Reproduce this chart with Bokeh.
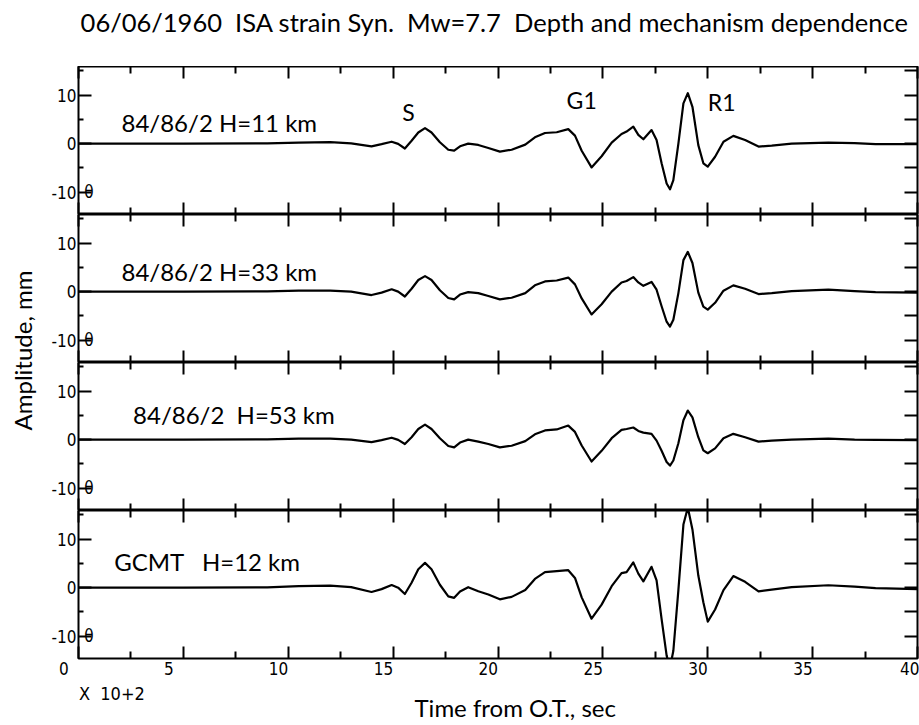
import math
from bokeh.plotting import figure
from bokeh.layouts import column, row
from bokeh.models import LinearAxis, FixedTicker, Range1d
from bokeh.core.properties import value
from bokeh.embed import file_html
from bokeh.resources import INLINE

# ---------------- data (time in units of 100 s) ----------------
time_hs = [0, 5, 9, 10.5, 12, 13, 13.97, 14.45, 14.93, 15.24,
           15.56, 15.88, 16.2, 16.52, 16.83, 17.23, 17.63, 17.91, 18.19, 18.58,
           19.06, 19.54, 20.09, 20.65, 21.3, 21.76, 22.24, 22.8, 23.35, 23.67,
           23.99, 24.46, 24.94, 25.42, 25.89, 26.13, 26.45, 26.69, 26.93, 27.32,
           27.56, 27.8, 28.04, 28.2, 28.36, 28.6, 28.84, 29.05, 29.27, 29.55,
           29.79, 30.0, 30.35, 30.75, 31.22, 31.78, 32.42, 33.05, 34.0, 35.75,
           37, 38, 40]

amp_h11 = [0, 0, 0.05, 0.2, 0.3, 0.05, -0.55, -0.1, 0.4, -0.05,
           -1.0, 0.6, 2.3, 3.2, 2.3, 0.3, -1.25, -1.45, -0.55, 0.0,
           -0.27, -0.9, -1.65, -1.25, -0.2, 1.3, 2.2, 2.35, 3.0, 1.65,
           -1.45, -4.9, -2.6, 0.2, 2.0, 2.5, 3.5, 1.8, 0.9, 2.8,
           0.75, -4.05, -8.2, -9.4, -7.5, 0.0, 8.3, 10.4, 7.6, -0.3,
           -4.05, -4.75, -2.7, 0.4, 1.6, 0.75, -0.6, -0.4, 0.0, 0.2,
           0.1, -0.1, -0.1]

amp_h33 = [0, 0, 0.05, 0.2, 0.2, 0.0, -0.7, -0.2, 0.5, 0.0,
           -1.0, 0.6, 2.4, 3.2, 2.4, 0.3, -1.3, -1.6, -0.6, -0.1,
           -0.3, -0.9, -1.6, -1.25, -0.3, 1.3, 2.1, 2.3, 2.9, 1.5,
           -1.4, -4.7, -2.6, 0.0, 1.9, 2.2, 3.0, 1.9, 1.2, 2.0,
           0.4, -3.0, -6.2, -7.2, -5.8, -0.3, 6.5, 8.2, 5.9, -0.2,
           -3.1, -3.7, -2.3, 0.2, 1.3, 0.6, -0.5, -0.3, 0.1, 0.4,
           0.1, -0.1, -0.2]

amp_h53 = [0, 0, 0.05, 0.2, 0.2, 0.0, -0.5, -0.1, 0.4, -0.05,
           -0.9, 0.5, 2.2, 3.1, 2.2, 0.3, -1.3, -1.6, -0.6, 0.0,
           -0.4, -0.9, -1.6, -1.25, -0.3, 1.1, 1.9, 2.1, 2.9, 1.6,
           -1.2, -4.5, -2.3, 0.3, 2.0, 2.2, 2.5, 1.8, 1.45, 1.2,
           -0.2, -2.3, -4.6, -5.35, -4.3, -0.75, 4.0, 6.0, 4.6, 0.5,
           -2.2, -2.8, -1.8, 0.3, 1.2, 0.5, -0.4, -0.2, 0.0, 0.2,
           0.0, -0.05, -0.1]

amp_gcmt = [0, 0, 0.05, 0.3, 0.4, 0.1, -0.9, -0.3, 0.55, 0.0,
            -1.3, 1.0, 3.8, 5.1, 3.8, 0.6, -1.8, -2.1, -0.8, 0.1,
            -0.75, -1.4, -2.4, -1.9, -0.5, 1.8, 3.2, 3.4, 3.6, 2.0,
            -2.0, -6.4, -3.5, 0.3, 3.0, 3.2, 5.2, 2.9, 1.3, 4.3,
            1.5, -6.5, -14.0, -16.5, -13.0, -0.5, 13.0, 16.5, 12.0, 2.5,
            -3.0, -7.0, -4.5, -0.5, 2.4, 1.2, -0.75, -0.4, 0.1, 0.5,
            0.2, -0.1, -0.3]

panel_amps = [amp_h11, amp_h33, amp_h53, amp_gcmt]
panel_labels = ["84/86/2 H=11 km", "84/86/2 H=33 km",
                "84/86/2 \u00a0H=53 km", "GCMT \u00a0 H=12 km"]
phase_labels = ["S", "G1", "R1"]

x_major = [0, 5, 10, 15, 20, 25, 30, 35, 40]
x_minor = [2.5, 7.5, 12.5, 17.5, 22.5, 27.5, 32.5, 37.5]
y_major = [-10, 0, 10]
y_minor = [-5, 5, 15]
y_right = [-10, -5, 0, 5, 10, 15]

title_text = "06/06/1960 \u00a0ISA strain Syn. \u00a0Mw=7.7 \u00a0Depth and mechanism dependence"
y_label_text = "Amplitude, mm"
x_label_text = "Time from O.T., sec"
x_scale_text = "X \u00a010+2"

# ---------------- layout / style ----------------
LBL_FONT = value("Lato")
TICK_FONT = "DejaVu Sans Condensed"
YLAB_W = 48
FRAME_W, FRAME_H = 839, 148
BORDER_L, BORDER_R = 29, 2
TITLE_H, BOT_AX_H, BOT_H = 66, 24, 42
TOTAL_H = TITLE_H + 4 * FRAME_H + BOT_AX_H + BOT_H

# text centres (data units of each panel)
label_pos = [(2.05, 4.43), (2.05, 4.2), (2.6, 5.2), (1.7, 5.4)]
phase_pos = [(15.43, 6.45), (23.27, 9.0), (30.0, 8.6)]

x_range = Range1d(0, 40)


def pad_label(v):
    s = str(v)
    if v == x_major[-1]:
        return s
    return s + "\u00a0" * (6 if len(s) == 1 else 4)


def hidden_labels(ax):
    ax.major_label_standoff = 0
    ax.major_label_text_font_size = "0px"
    ax.major_label_text_color = None


def make_panel(i, with_labels):
    p = figure(frame_width=FRAME_W, frame_height=FRAME_H, x_range=x_range,
               y_range=Range1d(-14.6, 15.9), output_backend="svg",
               toolbar_location=None, x_axis_location=None, y_axis_location=None,
               min_border_left=BORDER_L, min_border_right=BORDER_R,
               min_border_top=0, min_border_bottom=(BOT_AX_H if with_labels else 0),
               background_fill_color="white", border_fill_color="white")
    p.grid.grid_line_color = None
    p.outline_line_color = "black"
    p.outline_line_width = 2

    left = LinearAxis(ticker=FixedTicker(ticks=y_major, minor_ticks=y_minor),
                      major_label_overrides={v: str(v) for v in y_major},
                      major_tick_in=13, major_tick_out=0,
                      minor_tick_in=5, minor_tick_out=0,
                      major_tick_line_width=2, minor_tick_line_width=2,
                      axis_line_color=None, major_label_standoff=2,
                      major_label_text_font=TICK_FONT,
                      major_label_text_font_size="17px",
                      major_label_text_color="black")
    p.add_layout(left, "left")

    right = LinearAxis(ticker=FixedTicker(ticks=y_right),
                       major_tick_in=13, major_tick_out=0,
                       minor_tick_line_color=None,
                       major_tick_line_width=2, axis_line_color=None)
    hidden_labels(right)
    p.add_layout(right, "right")

    top = LinearAxis(ticker=FixedTicker(ticks=x_major, minor_ticks=x_minor),
                     major_tick_in=12, major_tick_out=0,
                     minor_tick_in=7, minor_tick_out=0,
                     major_tick_line_width=2, minor_tick_line_width=2,
                     axis_line_color=None)
    hidden_labels(top)
    p.add_layout(top, "above")

    bottom = LinearAxis(ticker=FixedTicker(ticks=x_major, minor_ticks=x_minor),
                        major_tick_in=12, major_tick_out=0,
                        minor_tick_in=7, minor_tick_out=0,
                        major_tick_line_width=2, minor_tick_line_width=2,
                        axis_line_color=None)
    if with_labels:
        bottom.major_label_overrides = {v: pad_label(v) for v in x_major}
        bottom.major_label_standoff = 0
        bottom.major_label_text_font = TICK_FONT
        bottom.major_label_text_font_size = "17px"
        bottom.major_label_text_color = "black"
    else:
        hidden_labels(bottom)
    p.add_layout(bottom, "below")

    p.line(time_hs, panel_amps[i], line_color="black", line_width=2.2,
           line_join="round")

    # the plotter's overlapping "0" beside -10
    p.text(x=[0.5], y=[-10], text=["\u03b8"], text_align="center",
           text_baseline="middle", text_font=value(TICK_FONT),
           text_font_size="17px", text_color="black")

    lx, ly = label_pos[i]
    p.text(x=[lx], y=[ly], text=[panel_labels[i]], text_align="left",
           text_baseline="middle", text_font=LBL_FONT,
           text_font_size="24px", text_color="black")
    if i == 0:
        p.text(x=[q[0] for q in phase_pos], y=[q[1] for q in phase_pos],
               text=phase_labels, text_align="left", text_baseline="middle",
               text_font=LBL_FONT, text_font_size="23px", text_color="black")
    return p


def strip_fig(h):
    """A text-only strip whose frame lines up with the panels' frames."""
    f = figure(frame_width=FRAME_W, frame_height=h, x_range=x_range,
               y_range=Range1d(0, h), output_backend="svg", toolbar_location=None,
               x_axis_location=None, y_axis_location=None,
               min_border_left=BORDER_L, min_border_right=BORDER_R,
               min_border_top=0, min_border_bottom=0)
    f.grid.grid_line_color = None
    f.outline_line_color = None
    return f


panels = [make_panel(i, i == 3) for i in range(4)]

title_fig = strip_fig(TITLE_H)
title_fig.text(x=[0.1], y=[TITLE_H - 21.4], text=[title_text], text_align="left",
               text_baseline="middle", text_font=LBL_FONT,
               text_font_size="25.5px", text_color="black")

bottom_fig = strip_fig(BOT_H)
bottom_fig.text(x=[0.02], y=[BOT_H - 11], text=[x_scale_text], text_align="left",
                text_baseline="middle", text_font=value(TICK_FONT),
                text_font_size="18px", text_color="black")
bottom_fig.text(x=[16.02], y=[17], text=[x_label_text], text_align="left",
                text_baseline="middle", text_font=LBL_FONT,
                text_font_size="24px", text_color="black")

ylab_fig = figure(width=YLAB_W, height=TOTAL_H, x_range=Range1d(0, YLAB_W),
                  y_range=Range1d(0, TOTAL_H), output_backend="svg",
                  toolbar_location=None, x_axis_location=None,
                  y_axis_location=None, min_border=0)
ylab_fig.grid.grid_line_color = None
ylab_fig.outline_line_color = None
ylab_fig.text(x=[22], y=[TOTAL_H - 350], text=[y_label_text], angle=math.pi / 2,
              text_align="center", text_baseline="middle", text_font=LBL_FONT,
              text_font_size="24px", text_color="black")

layout = row(ylab_fig, column(title_fig, *panels, bottom_fig, spacing=0), spacing=0)

open("out.html", "w").write(file_html(layout, INLINE))
